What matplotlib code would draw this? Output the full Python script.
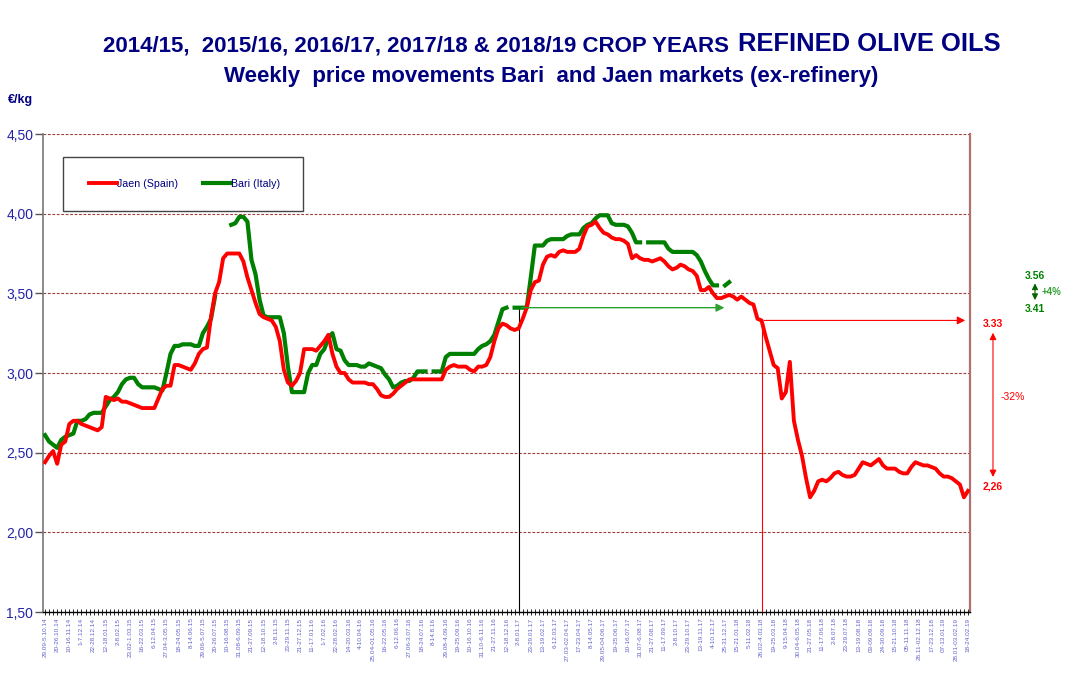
import matplotlib
matplotlib.use("Agg")
import matplotlib.pyplot as plt
import matplotlib.transforms as mtransforms
from matplotlib.patches import Rectangle
import numpy as np

plt.rcParams['font.family'] = ['Liberation Sans', 'DejaVu Sans']

nan = np.nan

# weekly prices, EUR/kg (one value per week, from 29.09-5.10.14 to 18-24.02.19)
jaen = [
    2.44, 2.48, 2.51, 2.43, 2.55, 2.57, 2.68, 2.70, 2.70, 2.68,
    2.67, 2.66, 2.65, 2.64, 2.66, 2.85, 2.84, 2.83, 2.84, 2.82,
    2.82, 2.81, 2.80, 2.79, 2.78, 2.78, 2.78, 2.78, 2.84, 2.90,
    2.92, 2.92, 3.05, 3.05, 3.04, 3.03, 3.02, 3.06, 3.12, 3.15,
    3.16, 3.35, 3.50, 3.57, 3.72, 3.75, 3.75, 3.75, 3.75, 3.70,
    3.60, 3.52, 3.44, 3.37, 3.35, 3.34, 3.33, 3.29, 3.20, 3.02,
    2.94, 2.92, 2.95, 3.00, 3.15, 3.15, 3.15, 3.14, 3.17, 3.20,
    3.24, 3.12, 3.04, 3.00, 3.00, 2.96, 2.94, 2.94, 2.94, 2.94,
    2.93, 2.93, 2.90, 2.86, 2.85, 2.85, 2.87, 2.90, 2.92, 2.94,
    2.96, 2.96, 2.96, 2.96, 2.96, 2.96, 2.96, 2.96, 2.96, 3.02,
    3.04, 3.05, 3.04, 3.04, 3.04, 3.02, 3.01, 3.04, 3.04, 3.05,
    3.10, 3.20, 3.28, 3.31, 3.30, 3.28, 3.27, 3.28, 3.34, 3.41,
    3.52, 3.57, 3.58, 3.68, 3.73, 3.74, 3.73, 3.76, 3.77, 3.76,
    3.76, 3.76, 3.78, 3.86, 3.92, 3.93, 3.95, 3.91, 3.88, 3.87,
    3.85, 3.84, 3.84, 3.83, 3.81, 3.72, 3.74, 3.72, 3.71, 3.71,
    3.70, 3.71, 3.72, 3.70, 3.67, 3.65, 3.66, 3.68, 3.67, 3.65,
    3.64, 3.61, 3.52, 3.52, 3.54, 3.50, 3.47, 3.47, 3.48, 3.49,
    3.48, 3.46, 3.48, 3.46, 3.44, 3.43, 3.34, 3.33, 3.23, 3.14,
    3.05, 3.03, 2.84, 2.88, 3.07, 2.70, 2.58, 2.48, 2.34, 2.22,
    2.26, 2.32, 2.33, 2.32, 2.34, 2.37, 2.38, 2.36, 2.35, 2.35,
    2.36, 2.40, 2.44, 2.43, 2.42, 2.44, 2.46, 2.42, 2.40, 2.40,
    2.40, 2.38, 2.37, 2.37, 2.41, 2.44, 2.43, 2.42, 2.42, 2.41,
    2.40, 2.37, 2.35, 2.35, 2.34, 2.32, 2.30, 2.22, 2.26,
]

bari = [
    2.61, 2.57, 2.55, 2.53, 2.58, 2.60, 2.61, 2.62, 2.70, 2.70,
    2.71, 2.74, 2.75, 2.75, 2.75, 2.79, 2.83, 2.85, 2.88, 2.93,
    2.96, 2.97, 2.97, 2.93, 2.91, 2.91, 2.91, 2.91, 2.90, 2.89,
    3.00, 3.12, 3.17, 3.17, 3.18, 3.18, 3.18, 3.17, 3.17, 3.25,
    3.29, 3.34, 3.48, nan, nan, nan, 3.93, 3.94, 3.98, 3.98,
    3.95, 3.71, 3.62, 3.46, 3.36, 3.35, 3.35, 3.35, 3.35, 3.25,
    3.04, 2.88, 2.88, 2.88, 2.88, 3.00, 3.05, 3.05, 3.12, 3.15,
    3.22, 3.25, 3.15, 3.14, 3.08, 3.05, 3.05, 3.05, 3.04, 3.04,
    3.06, 3.05, 3.04, 3.03, 2.99, 2.96, 2.91, 2.92, 2.94, 2.95,
    2.95, 2.97, 3.01, 3.01, 3.01, nan, 3.01, 3.01, 3.01, 3.10,
    3.12, 3.12, 3.12, 3.12, 3.12, 3.12, 3.12, 3.15, 3.17, 3.18,
    3.20, 3.24, 3.32, 3.40, 3.41, nan, 3.41, 3.41, 3.41, 3.41,
    3.60, 3.80, 3.80, 3.80, 3.83, 3.84, 3.84, 3.84, 3.84, 3.86,
    3.87, 3.87, 3.87, 3.91, 3.93, 3.94, 3.97, 3.99, 3.99, 3.99,
    3.94, 3.93, 3.93, 3.93, 3.92, 3.88, 3.82, 3.82, nan, 3.82,
    3.82, 3.82, 3.82, 3.82, 3.78, 3.76, 3.76, 3.76, 3.76, 3.76,
    3.76, 3.74, 3.70, 3.64, 3.59, 3.55, 3.55, nan, 3.55, 3.57,
]

week_labels = [
    '29.09-5.10.14', '20-26.10.14', '10-16.11.14', '1-7.12.14', '22-28.12.14',
    '12-18.01.15', '2-8.02.15', '23.02-1.03.15', '16-22.03.15', '6-12.04.15',
    '27.04-3.05.15', '18-24.05.15', '8-14.06.15', '29.06-5.07.15', '20-26.07.15',
    '10-16.08.15', '31.08-6.09.15', '21-27.09.15', '12-18.10.15', '2-8.11.15',
    '23-29.11.15', '21-27.12.15', '11-17.01.16', '1-7.02.16', '22-28.02.16',
    '14-20.03.16', '4-10.04.16', '25.04-01.05.16', '16-22.05.16', '6-12.06.16',
    '27.06-3.07.16', '18-24.07.16', '8-14.8.16', '29.08-4.09.16', '19-25.09.16',
    '10-16.10.16', '31.10-6.11.16', '21-27.11.16', '12-18.12.16', '2-8.01.17',
    '23-29.01.17', '13-19.02.17', '6-12.03.17', '27.03-02.04.17', '17-23.04.17',
    '8-14.05.17', '29.05-04.06.17', '19-25.06.17', '10-16.07.17', '31.07-6.08.17',
    '21-27.08.17', '11-17.09.17', '2-8.10.17', '23-29.10.17', '13-19.11.17',
    '4-10.12.17', '25-31.12.17', '15-21.01.18', '5-11.02.18', '26.02-4.03.18',
    '19-25.03.18', '9-15.04.18', '30.04-6.05.18', '21-27.05.18', '11-17.06.18',
    '2-8.07.18', '23-29.07.18', '13-19.08.18', '03-09.09.18', '24-30.09.18',
    '15-21.10.18', '05-11.11.18', '26.11-02.12.18', '17-23.12.18', '07-13.01.19',
    '28.01-03.02.19', '18-24.02.19',
]
label_step = 3

# reference levels used for the comparisons
bari_ref_week, bari_ref = 117, 3.41
bari_last = 3.56
jaen_ref_week, jaen_ref = 177, 3.33
jaen_last = 2.26

navy = '#000080'
red = '#ff0000'
green = '#008000'
grid_col = '#a03c3c'

fig = plt.figure(figsize=(10.83, 6.83), dpi=100)
ax = fig.add_axes([43 / 1083, 71 / 683, 927 / 1083, 478 / 683])

x_j = np.arange(len(jaen))
x_b = np.arange(len(bari))
ax.plot(x_j, jaen, color=red, lw=2.8, solid_joinstyle='round', label='Jaen (Spain)', zorder=4)
ax.plot(x_b, bari, color=green, lw=3.0, solid_joinstyle='round', label='Bari (Italy)', zorder=3)

ax.set_xlim(-0.5, len(jaen) - 0.5)
ax.set_ylim(1.5, 4.5)

# y axis
yt = np.arange(1.5, 4.51, 0.5)
ax.set_yticks(yt)
ax.set_yticklabels([('%.2f' % v).replace('.', ',') for v in yt], color='#2323a8', fontsize=10)
ax.tick_params(axis='y', direction='out', length=6, width=1, color='#555555', pad=1)
for v in yt[1:]:
    ax.axhline(v, color=grid_col, lw=0.8, ls=(0, (2.5, 1.5)), zorder=1)

# x axis
ax.set_xticks(np.arange(0, len(jaen), label_step))
ax.set_xticklabels(week_labels, rotation=90, fontsize=4.6, color='#6464cc')
ax.set_xticks(np.arange(len(jaen)), minor=True)
ax.tick_params(axis='x', which='both', direction='inout', length=4, width=0.6, color='black', pad=2)

ax.spines['top'].set_visible(False)
ax.spines['right'].set_color('#b07070')
ax.spines['right'].set_linestyle((0, (1.5, 1)))
ax.spines['right'].set_linewidth(1.6)
ax.spines['left'].set_color('#777777')
ax.spines['left'].set_linewidth(1.2)
ax.spines['bottom'].set_color('black')
ax.spines['bottom'].set_linewidth(1.0)

# reference lines and arrows
ax.plot([bari_ref_week, bari_ref_week], [1.5, bari_ref], color='black', lw=0.8, zorder=2)
ax.annotate('', xy=(168.5, bari_ref), xytext=(bari_ref_week, bari_ref),
            arrowprops=dict(arrowstyle='-|>', color='#2ca02c', lw=1.0, mutation_scale=12), zorder=5)
ax.plot([jaen_ref_week, jaen_ref_week], [1.5, jaen_ref], color=red, lw=0.8, zorder=2)
ax.annotate('', xy=(len(jaen) - 1, jaen_ref), xytext=(jaen_ref_week, jaen_ref),
            arrowprops=dict(arrowstyle='-|>', color=red, lw=0.8, mutation_scale=12), zorder=5)

# side notes (x in axes fraction, y in data)
tr = mtransforms.blended_transform_factory(ax.transAxes, ax.transData)
ax.text(1.0248, jaen_ref - 0.02, '%.2f' % jaen_ref, transform=tr, color=red, fontsize=7.5,
        fontweight='bold', ha='center', va='center')
ax.annotate('', xy=(1.0248, jaen_last + 0.07), xytext=(1.0248, jaen_ref - 0.06),
            xycoords=tr, textcoords=tr,
            arrowprops=dict(arrowstyle='<|-|>', color=red, lw=0.8, mutation_scale=10))
ax.text(1.0248, jaen_last + 0.03, ('%.2f' % jaen_last).replace('.', ','), transform=tr, color=red,
        fontsize=7.5, fontweight='bold', ha='center', va='center')
ax.text(1.0324, 2.85, '-%d%%' % round((1 - jaen_last / jaen_ref) * 100), transform=tr, color=red,
        fontsize=7.5, ha='left', va='center')

ax.text(1.0701, bari_last + 0.05, '%.2f' % bari_last, transform=tr, color=green, fontsize=7.5,
        fontweight='bold', ha='center', va='center')
ax.annotate('', xy=(1.0701, bari_ref + 0.03), xytext=(1.0701, bari_last + 0.02),
            xycoords=tr, textcoords=tr,
            arrowprops=dict(arrowstyle='<|-|>', color='#006400', lw=0.8, mutation_scale=9))
ax.text(1.0701, bari_ref - 0.01, '%.2f' % bari_ref, transform=tr, color=green, fontsize=7.5,
        fontweight='bold', ha='center', va='center')
ax.text(1.077, 3.51, '+%d%%' % round((bari_last / bari_ref - 1) * 100), transform=tr, color='#33a033',
        fontsize=7, fontweight='bold', ha='left', va='center')

# legend: plain box plus frameless legend inside it
ax.add_patch(Rectangle((0.0216, 0.839), 0.2589, 0.113, transform=ax.transAxes, facecolor='white',
                       edgecolor='#444444', lw=1.0, zorder=6))
leg = ax.legend(loc='center left', bbox_to_anchor=(0.0496, 0.895), ncol=2, fontsize=7.7,
                frameon=False, handlelength=2.6, handletextpad=0.05, columnspacing=2.3,
                borderaxespad=0, borderpad=0)
leg.set_zorder(7)
for t in leg.get_texts():
    t.set_color(navy)

# titles
fig.text(0.679, 0.933, '2014/15,  2015/16, 2016/17, 2017/18 & 2018/19 CROP YEARS ', ha='right',
         va='center', fontsize=16, fontweight='bold', color=navy)
fig.text(0.681, 0.935, 'REFINED OLIVE OILS', ha='left', va='center', fontsize=18.4,
         fontweight='bold', color=navy)
fig.text(0.509, 0.888, 'Weekly  price movements Bari  and Jaen markets (ex-refinery)', ha='center',
         va='center', fontsize=16, fontweight='bold', color=navy)
fig.text(8 / 1083, 1 - 100 / 683, '€/kg', ha='left', va='center', fontsize=9,
         fontweight='bold', color=navy)

fig.savefig('out.png', dpi=100)
